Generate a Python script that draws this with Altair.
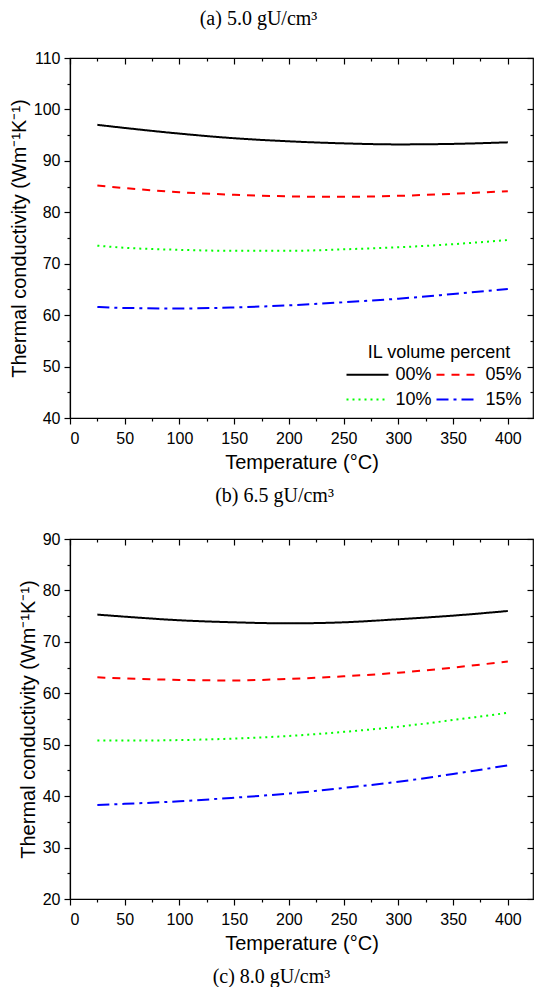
import altair as alt
import pandas as pd

# ---- data ----
T = [25, 50, 100, 150, 200, 250, 300, 350, 400]
series = ["00%", "05%", "10%", "15%"]

a_00 = [97.0, 96.4, 95.3, 94.4, 93.8, 93.4, 93.2, 93.3, 93.6]
a_05 = [85.2, 84.7, 83.9, 83.4, 83.1, 83.0, 83.2, 83.6, 84.1]
a_10 = [73.5, 73.1, 72.7, 72.5, 72.5, 72.8, 73.2, 73.8, 74.6]
a_15 = [61.6, 61.4, 61.3, 61.5, 61.9, 62.5, 63.2, 64.1, 65.1]

b_00 = [75.3, 74.9, 74.2, 73.8, 73.6, 73.8, 74.4, 75.1, 76.0]
b_05 = [63.1, 62.9, 62.6, 62.5, 62.8, 63.3, 64.0, 65.0, 66.2]
b_10 = [50.8, 50.8, 50.9, 51.2, 51.7, 52.5, 53.5, 54.8, 56.2]
b_15 = [38.3, 38.5, 39.0, 39.7, 40.5, 41.6, 42.8, 44.3, 46.0]

x_major = [0, 50, 100, 150, 200, 250, 300, 350, 400]
x_minor = [25, 75, 125, 175, 225, 275, 325, 375]
a_major = [40, 50, 60, 70, 80, 90, 100, 110]
a_minor = [45, 55, 65, 75, 85, 95, 105]
b_major = [20, 30, 40, 50, 60, 70, 80, 90]
b_minor = [25, 35, 45, 55, 65, 75, 85]

colors = ["#000000", "#FF0000", "#00FF00", "#0000FF"]
dashes = [[1, 0], [8, 7], [2, 4], [12, 5, 3, 5]]

X_DOM = [0, 423]
W, H = 463, 360
SANS = "Liberation Sans"
SERIF = "Liberation Serif"


def make_df(vals):
    rows = []
    for s, v in zip(series, vals):
        for t, y in zip(T, v):
            rows.append({"T": t, "k": y, "s": s})
    return pd.DataFrame(rows)


def legend():
    return alt.Legend(
        title="IL volume percent", orient="none", direction="horizontal",
        legendX=286, legendY=286, columns=2,
        symbolType="M-2,0L2,0", symbolSize=441, symbolStrokeWidth=2,
        columnPadding=0, rowPadding=4, labelOffset=16.5,
        titleAnchor="middle", titlePadding=1, padding=0,
        labelFont=SANS, labelFontSize=18, labelColor="black",
        titleFont=SANS, titleFontSize=18, titleFontWeight="normal", titleColor="black",
    )


def panel(df, ydom, ymaj, ymin, title, title_dx, title_off):
    xs = alt.Scale(domain=X_DOM, nice=False, zero=False)
    ys = alt.Scale(domain=ydom, nice=False, zero=False)

    lines = alt.Chart(df).mark_line(strokeWidth=2, interpolate="monotone").encode(
        x=alt.X("T:Q", scale=xs, axis=alt.Axis(
            orient="bottom", values=x_major, tickSize=6, labelPadding=6,
            title="Temperature (°C)", titlePadding=6, grid=False)),
        y=alt.Y("k:Q", scale=ys, axis=alt.Axis(
            orient="left", values=ymaj, tickSize=6, labelPadding=4,
            title="Thermal conductivity (Wm⁻¹K⁻¹)", titlePadding=4, grid=False)),
        color=alt.Color("s:N", scale=alt.Scale(domain=series, range=colors),
                        legend=legend()),
        strokeDash=alt.StrokeDash("s:N", scale=alt.Scale(domain=series, range=dashes),
                                  legend=legend()),
    )

    def ghost(xaxis, yaxis):
        return alt.Chart(df).mark_line(strokeOpacity=0).encode(
            x=alt.X("T:Q", scale=xs, axis=xaxis),
            y=alt.Y("k:Q", scale=ys, axis=yaxis),
            detail="s:N",
        )

    g_minor_out = ghost(
        alt.Axis(orient="bottom", values=x_minor, tickSize=3, labels=False,
                 domain=False, title=None, grid=False),
        alt.Axis(orient="left", values=ymin, tickSize=3, labels=False,
                 domain=False, title=None, grid=False),
    )
    g_major_in = ghost(
        alt.Axis(orient="top", values=x_major, tickSize=6, offset=-6, labels=False,
                 domain=False, title=None, grid=False),
        alt.Axis(orient="right", values=ymaj, tickSize=6, offset=-6, labels=False,
                 domain=False, title=None, grid=False),
    )
    g_minor_in = ghost(
        alt.Axis(orient="top", values=x_minor, tickSize=3, offset=-3, labels=False,
                 domain=False, title=None, grid=False),
        alt.Axis(orient="right", values=ymin, tickSize=3, offset=-3, labels=False,
                 domain=False, title=None, grid=False),
    )

    return alt.layer(lines, g_minor_out, g_major_in, g_minor_in).resolve_scale(
        x="independent", y="independent"
    ).properties(
        width=W, height=H,
        title=alt.TitleParams(title, font=SERIF, fontSize=20, fontWeight="normal",
                              color="black", anchor="middle", frame="group",
                              dx=title_dx, offset=title_off),
    )


p1 = panel(make_df([a_00, a_05, a_10, a_15]), [40, 110], a_major, a_minor,
           "(a) 5.0 gU/cm³", -43, 21)
p2 = panel(make_df([b_00, b_05, b_10, b_15]), [20, 90], b_major, b_minor,
           "(b) 6.5 gU/cm³", -27, 25)

chart = alt.vconcat(p1, p2, spacing=12).properties(
    title=alt.TitleParams("(c) 8.0 gU/cm³", orient="bottom", font=SERIF,
                          fontSize=20, fontWeight="normal", color="black",
                          anchor="middle", offset=13, dx=0),
    padding={"left": 0, "top": 0, "right": 0, "bottom": 0},
    background="white",
).configure_view(
    stroke="black", strokeWidth=1.2
).configure_axis(
    labelFont=SANS, labelFontSize=16, labelColor="black",
    titleFont=SANS, titleFontSize=20, titleFontWeight="normal", titleColor="black",
    domainColor="black", domainWidth=1.2, tickColor="black", tickWidth=1.2,
)

chart.save("out.html", embed_options={"renderer": "svg", "actions": False})
